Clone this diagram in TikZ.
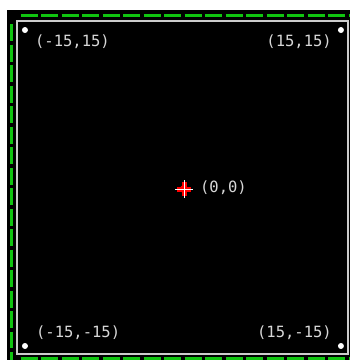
\documentclass[tikz,border=0pt]{standalone}
\usepackage{fontspec}
\newfontfamily\pixfont{DejaVu Sans Mono}
\usetikzlibrary{positioning}
\definecolor{gridgreen}{RGB}{16,196,16}
\definecolor{lblgray}{RGB}{215,215,215}
\tikzset{
  frame/.style={gridgreen, line width=3pt, dash pattern=on 17pt off 3.5pt},
  border/.style={draw=white!80!black, line width=1.4pt},
  corner/.style={fill=white},
  lbl/.style={text=lblgray, font=\pixfont\fontsize{15.5}{16}\selectfont, inner sep=0pt}
}

\begin{document}
\begin{tikzpicture}[x=10.533pt, y=10.533pt]

    % Page
    \useasboundingbox (-17.37,-16.33) rectangle (15.85,17.85);
    \fill[white] (-17.37,-16.33) rectangle (15.85,17.85);
    \clip (-17.37,-16.33) rectangle (15.85,17.85);

    % Screen
    \fill[black] (-16.71,-16.71) rectangle (16.71,16.90);

    % Green dashed frame
    \draw[frame] (-15.41,16.38) -- (16.5,16.38);
    \draw[frame] (-16.28,15.57) -- (-16.28,-16.5);
    \draw[frame] (-15.41,-16.19) -- (16.5,-16.19);

    % Plot area
    \draw[border] (-15.76,-15.76) rectangle (15.66,15.85);

    % Corner points
    \coordinate (tl) at (-15,15);
    \coordinate (tr) at (15,15);
    \coordinate (bl) at (-15,-15);
    \coordinate (br) at (15,-15);
    \foreach \c in {tl,tr,bl,br}
      \fill[corner] (\c) circle (3pt);

    % Corner labels
    \node[lbl, right] (tllbl) at (-14.05,13.86) {(-15,15)};
    \node[lbl, left]  (trlbl) at (14.15,13.86) {(15,15)};
    \node[lbl, right] (bllbl) at (-13.96,-13.77) {(-15,-15)};
    \node[lbl, left]  (brlbl) at (14.15,-13.77) {(15,-15)};

    % Origin
    \coordinate (o) at (0.1,-0.1);
    \fill[red] (o) circle (4pt);
    \draw[red, line width=5pt] ([xshift=-7pt]o) -- ([xshift=7pt]o);
    \draw[red, line width=5pt] ([yshift=-7pt]o) -- ([yshift=7pt]o);
    \draw[white, line width=1pt] ([xshift=-9pt]o) -- ([xshift=9pt]o);
    \draw[white, line width=1pt] ([yshift=-9pt]o) -- ([yshift=9pt]o);
    \node[lbl, right] (olbl) at (1.61,0) {(0,0)};

\end{tikzpicture}
\end{document}
